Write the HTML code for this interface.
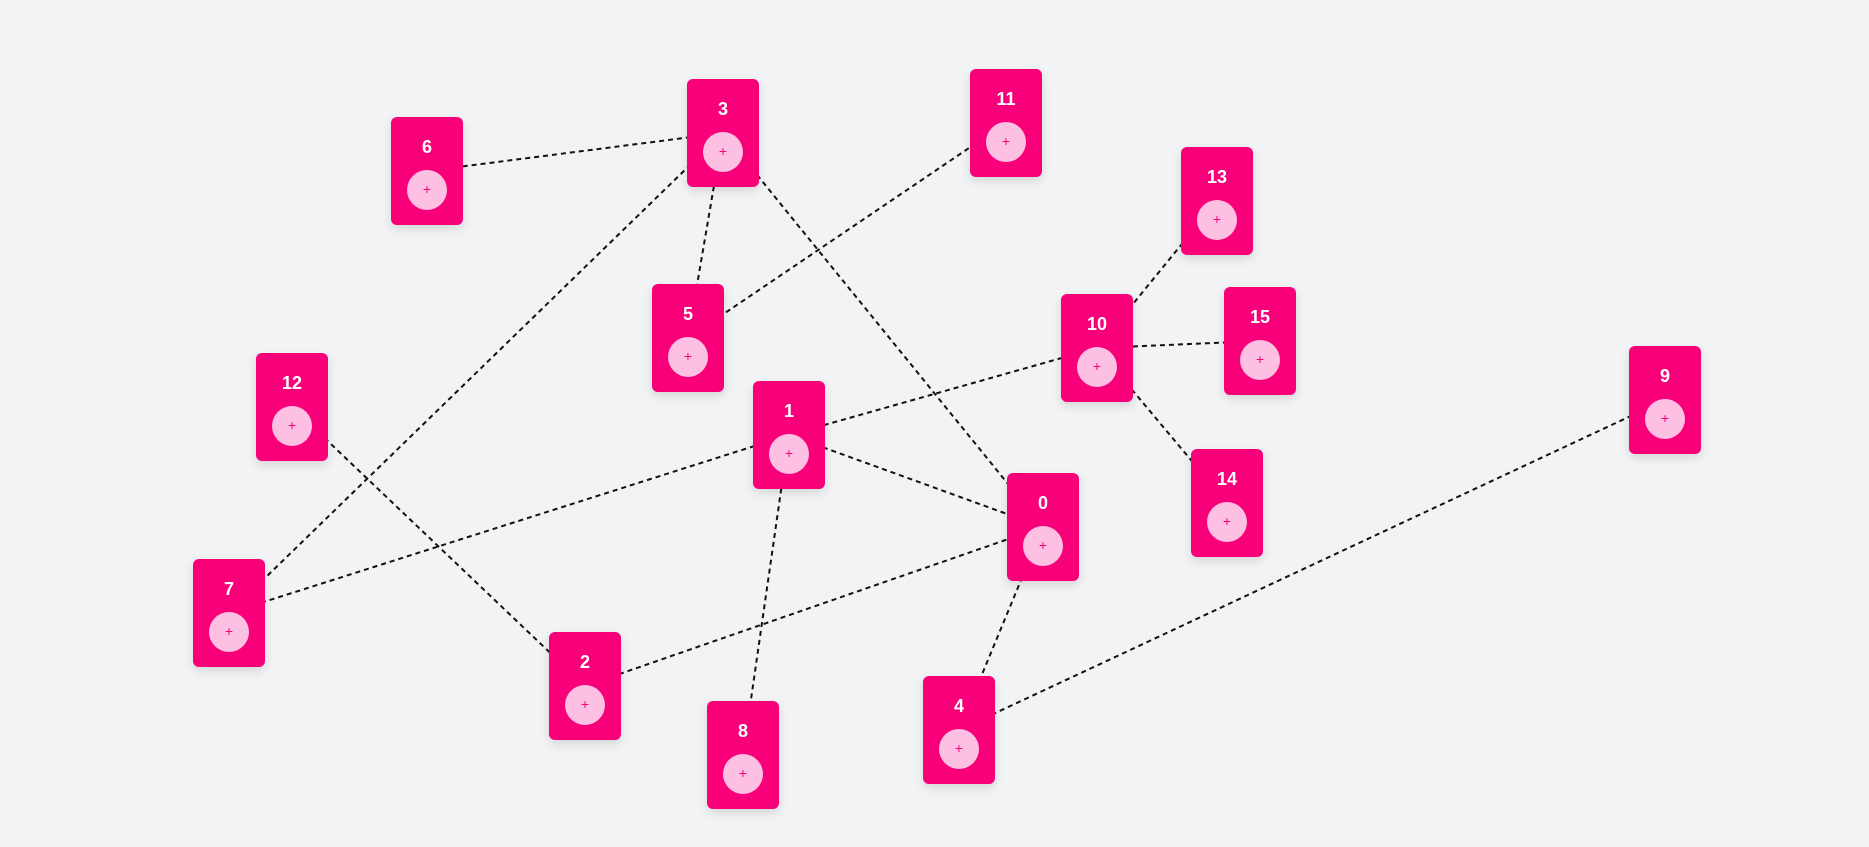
<!DOCTYPE html>
<html><head><meta charset="utf-8"><style>
html,body{margin:0;padding:0;background:#f2f3f5;width:1869px;height:847px;overflow:hidden;font-family:"Liberation Sans","DejaVu Sans",sans-serif}
#wrap{position:relative;width:1869px;height:847px}
svg{position:absolute;left:0;top:0}
.node{position:absolute;width:72px;height:108px;background:#f7007a;border-radius:6px;box-shadow:0 4px 10px rgba(0,0,0,0.12)}
.node .lbl{position:absolute;left:0;right:0;top:20px;text-align:center;color:#fff;font-weight:bold;font-size:18px}
.node .btn{position:absolute;left:16px;top:53px;width:40px;height:40px;border-radius:50%;background:#fdc0e2;color:#f7007a;text-align:center;line-height:38px;font-size:14px}
</style></head><body>
<div id="wrap">
<svg id="edges" width="1869" height="847"></svg>
</div>
<script>
const nodeIds=[6,3,11,13,10,15,5,12,1,9,14,0,7,2,8,4];
const nodeX=[391,687,970,1181,1061,1224,652,256,753,1629,1191,1007,193,549,707,923];
const nodeY=[117,79,69,147,294,287,284,353,381,346,449,473,559,632,701,676];
const edgeFrom=[6,3,3,3,11,13,10,10,10,1,1,1,12,2,0,4];
const edgeTo=[3,7,5,0,5,10,15,14,1,7,0,8,2,0,4,9];
const wrap=document.getElementById('wrap');
const svg=document.getElementById('edges');
const pos={};
nodeIds.forEach((id,i)=>{pos[id]=[nodeX[i]+36,nodeY[i]+54];});
edgeFrom.forEach((f,i)=>{
  const t=edgeTo[i];
  const l=document.createElementNS('http://www.w3.org/2000/svg','line');
  l.setAttribute('x1',pos[f][0]);l.setAttribute('y1',pos[f][1]);
  l.setAttribute('x2',pos[t][0]);l.setAttribute('y2',pos[t][1]);
  l.setAttribute('stroke','#111');l.setAttribute('stroke-width','2');
  l.setAttribute('stroke-dasharray','5 4');
  
  
  svg.appendChild(l);
});
nodeIds.forEach((id,i)=>{
  const n=document.createElement('div');
  n.className='node';
  n.style.left=nodeX[i]+'px';n.style.top=nodeY[i]+'px';
  
  
  const lb=document.createElement('div');lb.className='lbl';lb.textContent=id;
  
  
  const b=document.createElement('div');b.className='btn';b.textContent='+';
  
  
  n.appendChild(lb);n.appendChild(b);wrap.appendChild(n);
});
</script>
</body></html>
